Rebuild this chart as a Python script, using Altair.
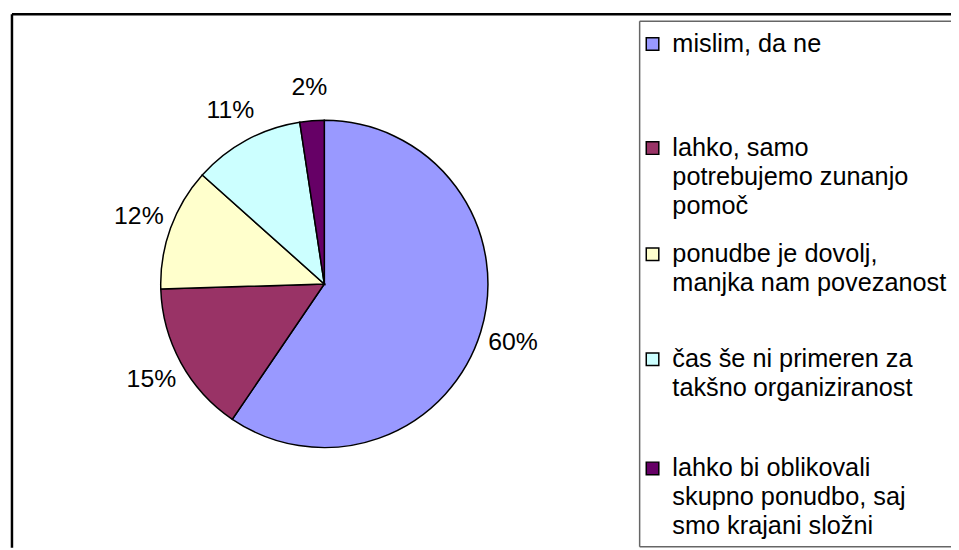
import altair as alt
import pandas as pd

# ---- data ----
categories = [
    "mislim, da ne",
    "lahko, samo potrebujemo zunanjo pomoč",
    "ponudbe je dovolj, manjka nam povezanost",
    "čas še ni primeren za takšno organiziranost",
    "lahko bi oblikovali skupno ponudbo, saj smo krajani složni",
]
values = [59.5, 15.0, 12.1, 11.0, 2.4]
pct_labels = ["60%", "15%", "12%", "11%", "2%"]
colors = ["#9999FF", "#993366", "#FFFFCC", "#CCFFFF", "#660066"]
legend_lines = [
    ["mislim, da ne"],
    ["lahko, samo", "potrebujemo zunanjo", "pomoč"],
    ["ponudbe je dovolj,", "manjka nam povezanost"],
    ["čas še ni primeren za", "takšno organiziranost"],
    ["lahko bi oblikovali", "skupno ponudbo, saj", "smo krajani složni"],
]

# ---- layout (chart coordinates; page offset is 8px) ----
W, H = 951, 542
CX, CY, R = 319, 276, 165
FONT = "Liberation Sans"
FS_LBL = 25
FS_LEG = 25.5
LEG_TOPS = [34, 139, 246, 352, 462]
LINE_H = 29
LEG_SQ_X = 650
LEG_TX_X = 670
LEG_L, LEG_T, LEG_B = 637, 11, 541

one = pd.DataFrame({"a": [0]})
frame = alt.layer(
    alt.Chart(one).mark_rule(color="black", strokeWidth=2.5).encode(
        x=alt.value(4), x2=alt.value(W), y=alt.value(4)),
    alt.Chart(one).mark_rule(color="black", strokeWidth=2.5).encode(
        x=alt.value(4), y=alt.value(4), y2=alt.value(H)),
    alt.Chart(one).mark_rule(color="#666666", strokeWidth=1.5).encode(
        x=alt.value(LEG_L), x2=alt.value(W), y=alt.value(LEG_T)),
    alt.Chart(one).mark_rule(color="#666666", strokeWidth=1.5).encode(
        x=alt.value(LEG_L), y=alt.value(LEG_T), y2=alt.value(LEG_B)),
    alt.Chart(one).mark_rule(color="#666666", strokeWidth=1.5).encode(
        x=alt.value(LEG_L), x2=alt.value(W), y=alt.value(LEG_B)),
)

pie_df = pd.DataFrame({"cat": categories, "val": values, "lbl": pct_labels,
                       "ord": list(range(len(values)))})
base = alt.Chart(pie_df).encode(
    theta=alt.Theta("val:Q", stack=True),
    order=alt.Order("ord:Q"),
)
arcs = base.mark_arc(outerRadius=R, stroke="black", strokeWidth=1.5).encode(
    x=alt.value(CX), y=alt.value(CY),
    color=alt.Color("cat:N", scale=alt.Scale(domain=categories, range=colors), legend=None),
)
labels = base.mark_text(radius=199, font=FONT, fontSize=FS_LBL, color="black").encode(
    x=alt.value(CX), y=alt.value(CY), text="lbl:N"
)

rows, sq = [], []
for i, (cat, lines) in enumerate(zip(categories, legend_lines)):
    sq.append({"cat": cat, "y": LEG_TOPS[i]})
    for j, ln in enumerate(lines):
        rows.append({"t": ln, "y": LEG_TOPS[i] + j * LINE_H})
leg_text_df = pd.DataFrame(rows)
leg_sq_df = pd.DataFrame(sq)

leg_sq = alt.Chart(leg_sq_df).mark_square(size=160, stroke="black", strokeWidth=1.5, opacity=1).encode(
    x=alt.value(LEG_SQ_X),
    y=alt.Y("y:Q", scale=None),
    fill=alt.Fill("cat:N", scale=alt.Scale(domain=categories, range=colors), legend=None),
)
leg_tx = alt.Chart(leg_text_df).mark_text(align="left", baseline="middle", font=FONT,
                                          fontSize=FS_LEG, color="black").encode(
    x=alt.value(LEG_TX_X),
    y=alt.Y("y:Q", scale=None),
    text="t:N",
)

chart = alt.layer(frame, arcs, labels, leg_sq, leg_tx).properties(
    width=W, height=H, autosize=alt.AutoSizeParams(type="none"), padding=0
).configure_view(stroke=None)

chart.save("out.html", embed_options={"renderer": "svg", "actions": False})
